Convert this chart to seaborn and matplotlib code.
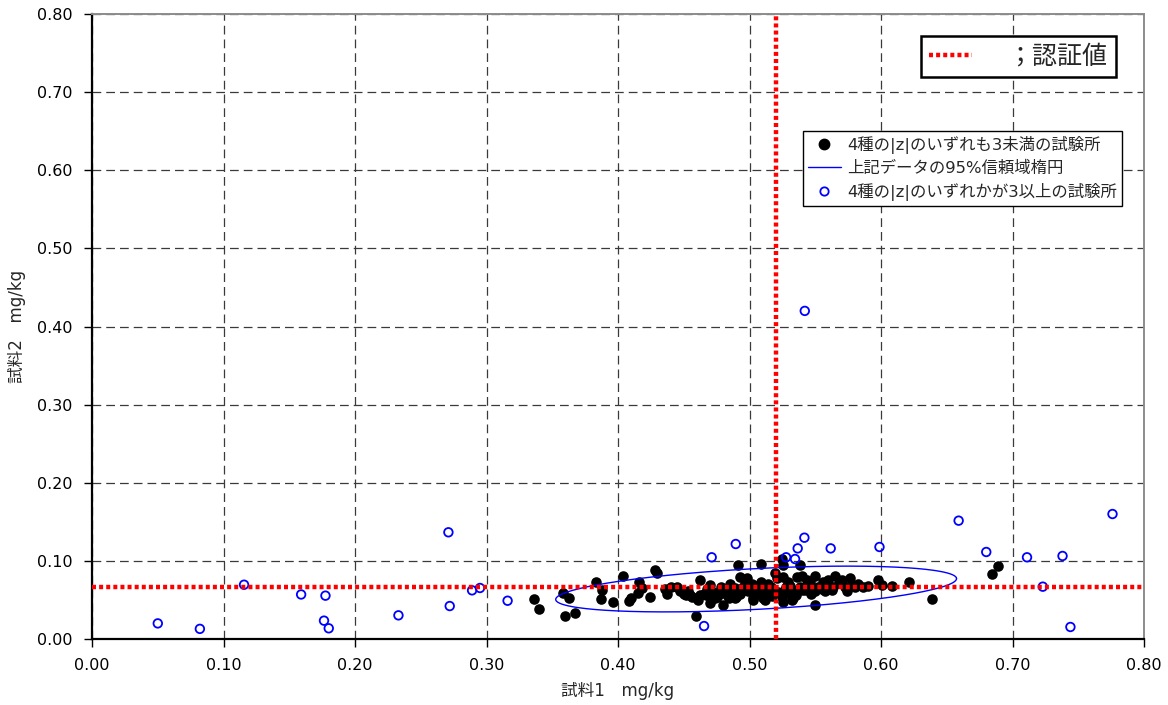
import numpy as np
import pandas as pd
import matplotlib
matplotlib.use("Agg")
import matplotlib.pyplot as plt
from matplotlib.lines import Line2D
import seaborn as sns

# --- data (mg/kg) ---------------------------------------------------------
# Laboratories whose four |z| scores are all below 3
ok_x = [0.336, 0.340, 0.358, 0.363, 0.360, 0.367, 0.383, 0.387, 0.388, 0.396,
        0.404, 0.408, 0.410, 0.416, 0.4155, 0.424, 0.428, 0.430, 0.436, 0.440,
        0.447, 0.450, 0.452, 0.455, 0.456, 0.460, 0.461, 0.462, 0.462, 0.465,
        0.459, 0.467, 0.470, 0.474, 0.475, 0.476, 0.480, 0.480, 0.483, 0.484,
        0.486, 0.489, 0.489, 0.491, 0.493, 0.4966, 0.498, 0.5017, 0.499, 0.494,
        0.490, 0.503, 0.500, 0.503, 0.5087, 0.5118, 0.5067, 0.513, 0.509, 0.508,
        0.5105, 0.514, 0.519, 0.5207, 0.5245, 0.5257, 0.5257, 0.5295, 0.527, 0.5245,
        0.5295, 0.533, 0.5257, 0.532, 0.538, 0.536, 0.540, 0.5435, 0.5384, 0.5422,
        0.5346, 0.5397, 0.546, 0.5498, 0.5498, 0.556, 0.5574, 0.560, 0.5637, 0.565,
        0.5625, 0.5498, 0.570, 0.5726, 0.5764, 0.5777, 0.5828, 0.5865, 0.598, 0.6005,
        0.608, 0.6215, 0.639, 0.684, 0.689,
        0.445, 0.453, 0.468, 0.472, 0.478, 0.485, 0.495, 0.505, 0.510, 0.516,
        0.522, 0.531, 0.535, 0.545, 0.552, 0.558, 0.568, 0.574, 0.580, 0.590,
        0.470, 0.493, 0.517, 0.528, 0.547, 0.555, 0.418, 0.437]
ok_y = [0.051, 0.039, 0.059, 0.052, 0.030, 0.033, 0.073, 0.051, 0.063, 0.047,
        0.081, 0.049, 0.052, 0.073, 0.0585, 0.054, 0.088, 0.085, 0.064, 0.067,
        0.061, 0.058, 0.056, 0.056, 0.054, 0.052, 0.050, 0.056, 0.0755, 0.058,
        0.029, 0.056, 0.046, 0.052, 0.054, 0.056, 0.061, 0.0435, 0.056, 0.052,
        0.061, 0.065, 0.052, 0.095, 0.080, 0.074, 0.078, 0.070, 0.061, 0.061,
        0.054, 0.050, 0.063, 0.052, 0.096, 0.050, 0.0585, 0.063, 0.073, 0.063,
        0.052, 0.071, 0.084, 0.078, 0.102, 0.095, 0.080, 0.073, 0.063, 0.054,
        0.0585, 0.052, 0.048, 0.050, 0.095, 0.080, 0.081, 0.076, 0.067, 0.063,
        0.061, 0.063, 0.073, 0.081, 0.061, 0.073, 0.061, 0.0755, 0.067, 0.081,
        0.063, 0.043, 0.0755, 0.067, 0.078, 0.069, 0.071, 0.067, 0.076, 0.069,
        0.068, 0.0726, 0.051, 0.083, 0.0935,
        0.066, 0.062, 0.064, 0.060, 0.066, 0.070, 0.066, 0.068, 0.060, 0.066,
        0.060, 0.068, 0.056, 0.068, 0.066, 0.068, 0.072, 0.062, 0.066, 0.068,
        0.069, 0.058, 0.055, 0.066, 0.058, 0.064, 0.065, 0.058]

# Laboratories with at least one |z| of 3 or more
out_x = [0.050, 0.082, 0.1156, 0.159, 0.1775, 0.1764, 0.180, 0.233, 0.271, 0.272,
         0.289, 0.295, 0.316, 0.4712, 0.4895, 0.4654, 0.5278, 0.5346, 0.5366, 0.5417,
         0.5617, 0.5988, 0.659, 0.680, 0.711, 0.738, 0.723, 0.744, 0.776, 0.542]
out_y = [0.020, 0.013, 0.0695, 0.057, 0.0555, 0.0235, 0.0137, 0.0303, 0.1366, 0.0422,
         0.0623, 0.0653, 0.049, 0.1046, 0.1216, 0.0166, 0.1046, 0.1024, 0.116, 0.1297,
         0.116, 0.1178, 0.1515, 0.1114, 0.1046, 0.1063, 0.067, 0.0154, 0.160, 0.420]

# Certified values of sample 1 and sample 2
cert_x = 0.520
cert_y = 0.067

# 95 % confidence ellipse of the accepted data
ell_center = (0.505, 0.064)
ell_semi_major = 0.153
ell_semi_minor = 0.026
ell_slope = 0.09

ticks = [0.0, 0.1, 0.2, 0.3, 0.4, 0.5, 0.6, 0.7, 0.8]
tick_labels = ["0.00", "0.10", "0.20", "0.30", "0.40", "0.50", "0.60", "0.70", "0.80"]

lab_ok = "4種の|z|のいずれも3未満の試験所"
lab_ell = "上記データの95%信頼域楕円"
lab_out = "4種の|z|のいずれかが3以上の試験所"
lab_cert = "；認証値"

# --- styling ----------------------------------------------------------------
sns.set_theme(style="white")
plt.rcParams["font.family"] = ["DejaVu Sans", "Noto Sans CJK JP"]

fig = plt.figure(figsize=(11.68, 7.05), dpi=100)
ax = fig.add_axes([0.0788, 0.0936, 0.9007, 0.8865])

# ellipse outline
t = np.linspace(0, 2 * np.pi, 400)
th = np.arctan(ell_slope)
ex = ell_center[0] + ell_semi_major * np.cos(t) * np.cos(th) - ell_semi_minor * np.sin(t) * np.sin(th)
ey = ell_center[1] + ell_semi_major * np.cos(t) * np.sin(th) + ell_semi_minor * np.sin(t) * np.cos(th)
ell_df = pd.DataFrame({"x": ex, "y": ey})

ok_df = pd.DataFrame({"x": ok_x, "y": ok_y})
out_df = pd.DataFrame({"x": out_x, "y": out_y})

sns.scatterplot(data=ok_df, x="x", y="y", ax=ax, s=58, color="black",
                edgecolor="black", linewidth=0, zorder=3, legend=False)
sns.lineplot(data=ell_df, x="x", y="y", ax=ax, sort=False, estimator=None,
             color="#0000FF", linewidth=1.0, zorder=4, legend=False)
sns.scatterplot(data=out_df, x="x", y="y", ax=ax, s=38, facecolor="none",
                edgecolor="#0000FF", linewidth=1.3, zorder=4, legend=False)

# certified value cross-hair
red_kw = dict(color="red", linewidth=3.2, linestyle=(0, (0.9, 0.7)),
              dash_capstyle="butt", zorder=5)
ax.axvline(cert_x, **red_kw)
ax.axhline(cert_y, **red_kw)

ax.set_xlim(0, 0.8)
ax.set_ylim(0, 0.8)
ax.set_xticks(ticks)
ax.set_yticks(ticks)
ax.set_xticklabels(tick_labels)
ax.set_yticklabels(tick_labels)
ax.tick_params(axis="both", which="major", direction="out", length=6, width=1,
               color="black", labelsize=11.5, labelcolor="black", pad=8,
               bottom=True, left=True)
ax.grid(True, color="#3a3a3a", linestyle=(0, (7, 4)), linewidth=0.9, zorder=1)
ax.set_axisbelow(True)

for side in ("left", "bottom"):
    ax.spines[side].set_color("black")
    ax.spines[side].set_linewidth(1.6)
for side in ("top", "right"):
    ax.spines[side].set_color("#8c8c8c")
    ax.spines[side].set_linewidth(1.4)

ax.set_xlabel("試料1　mg/kg", fontsize=12, labelpad=6)
ax.set_ylabel("試料2　mg/kg", fontsize=12, labelpad=8)

# legends
h_ok = Line2D([], [], linestyle="none", marker="o", markersize=7.5,
              markerfacecolor="black", markeredgecolor="black")
h_ell = Line2D([], [], color="#0000FF", linewidth=1.0)
h_out = Line2D([], [], linestyle="none", marker="o", markersize=6,
               markerfacecolor="none", markeredgecolor="#0000FF", markeredgewidth=1.3)
leg2 = ax.legend([h_ok, h_ell, h_out], [lab_ok, lab_ell, lab_out],
                 loc="upper right", bbox_to_anchor=(0.979, 0.813),
                 fontsize=11.8, frameon=True, fancybox=False, framealpha=1,
                 edgecolor="black", borderpad=0.3, labelspacing=0.42,
                 handlelength=2.0, handletextpad=0.4, borderaxespad=0)
leg2.get_frame().set_linewidth(1.0)
ax.add_artist(leg2)

h_cert = Line2D([], [], color="red", linewidth=3.2, linestyle=(0, (0.9, 0.7)),
                dash_capstyle="butt")
leg1 = ax.legend([h_cert], [lab_cert], loc="upper right",
                 bbox_to_anchor=(0.973, 0.965), fontsize=18, frameon=True,
                 fancybox=False, framealpha=1, edgecolor="black",
                 borderpad=0.35, handlelength=1.7, handletextpad=1.4,
                 borderaxespad=0)
leg1.get_frame().set_linewidth(1.8)

fig.savefig("out.png", dpi=100)
